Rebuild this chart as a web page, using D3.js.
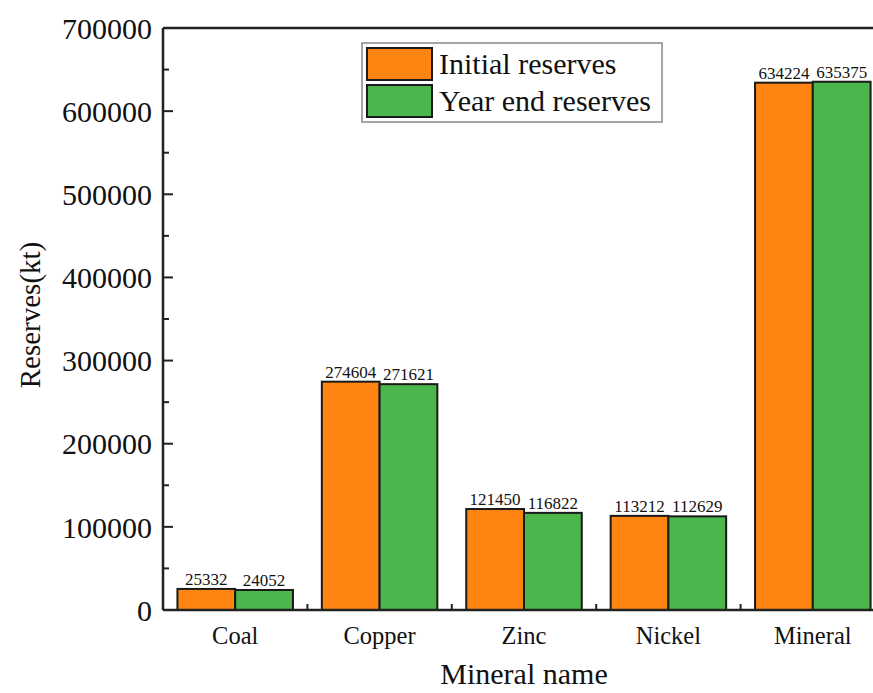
<!DOCTYPE html>
<html>
<head>
<meta charset="utf-8">
<script src="https://cdn.jsdelivr.net/npm/d3@7"></script>
<style>
  body { margin: 0; background: #fff; }
  svg text { font-family: "Liberation Serif", "Times New Roman", serif !important; fill: #111; }
</style>
</head>
<body>
<div id="chart"></div>
<script>
// Chart data
var minerals = ["Coal", "Copper", "Zinc", "Nickel", "Mineral"];
var seriesNames = ["Initial reserves", "Year end reserves"];
var initialReserves = [25332, 274604, 121450, 113212, 634224];
var yearEndReserves = [24052, 271621, 116822, 112629, 635375];
var yTicks = [0, 100000, 200000, 300000, 400000, 500000, 600000, 700000];

var colors = ["#FF8412", "#4BB64B"];

var svgWidth = 873;
var svgHeight = 693;

// plot area runs past the right edge of the picture
var margin = { top: 28, left: 163 };
var width = 722;
var height = 582;

var svg = d3.select("#chart")
  .append("svg")
  .attr("width", svgWidth)
  .attr("height", svgHeight);

var chartGroup = svg.append("g")
  .attr("transform", `translate(${margin.left}, ${margin.top})`);

var x0 = d3.scaleBand()
  .domain(minerals)
  .range([0, width])
  .paddingInner(0.2)
  .paddingOuter(0.1);

var x1 = d3.scaleBand()
  .domain(seriesNames)
  .range([0, x0.bandwidth()]);

var y = d3.scaleLinear()
  .domain([0, 700000])
  .range([height, 0]);

var rows = minerals.map((m, i) => ({
  name: m,
  values: [initialReserves[i], yearEndReserves[i]]
}));

// bars
var groups = chartGroup.selectAll(".group")
  .data(rows)
  .enter()
  .append("g")
  .attr("transform", d => `translate(${x0(d.name)}, 0)`);

groups.selectAll("rect")
  .data(d => d.values.map((v, j) => ({ key: seriesNames[j], value: v, j: j })))
  .enter()
  .append("rect")
  .attr("x", d => x1(d.key))
  .attr("y", d => y(d.value))
  .attr("width", x1.bandwidth())
  .attr("height", d => height - y(d.value))
  .attr("fill", d => colors[d.j])
  .attr("stroke", "#1a1a1a")
  .attr("stroke-width", 2);

// value labels
groups.selectAll(".val")
  .data(d => d.values.map((v, j) => ({ key: seriesNames[j], value: v })))
  .enter()
  .append("text")
  .attr("x", d => x1(d.key) + x1.bandwidth() / 2)
  .attr("y", d => y(d.value) - 4)
  .attr("text-anchor", "middle")
  .attr("font-size", "17px")
  .text(d => d.value);

// y axis
var leftAxis = d3.axisLeft(y).tickValues(yTicks).tickFormat(d3.format("d")).tickSize(0).tickPadding(11);
var yAxisG = chartGroup.append("g").call(leftAxis);
yAxisG.select(".domain").remove();
yAxisG.selectAll("text").attr("font-size", "30px").attr("dy", "0.34em");

// inside ticks (major + minor)
var yMinor = d3.range(50000, 700000, 100000);
chartGroup.selectAll(".ymaj")
  .data(yTicks)
  .enter()
  .append("line")
  .attr("x1", 0).attr("x2", 10)
  .attr("y1", d => y(d)).attr("y2", d => y(d))
  .attr("stroke", "#222").attr("stroke-width", 2);
chartGroup.selectAll(".ymin")
  .data(yMinor)
  .enter()
  .append("line")
  .attr("x1", 0).attr("x2", 6)
  .attr("y1", d => y(d)).attr("y2", d => y(d))
  .attr("stroke", "#222").attr("stroke-width", 2);

// x minor ticks between categories
chartGroup.selectAll(".xmin")
  .data(minerals.slice(1))
  .enter()
  .append("line")
  .attr("x1", d => x0(d) - x0.step() * x0.paddingInner() / 2)
  .attr("x2", d => x0(d) - x0.step() * x0.paddingInner() / 2)
  .attr("y1", height).attr("y2", height - 6)
  .attr("stroke", "#222").attr("stroke-width", 2);

// frame lines
chartGroup.append("line")
  .attr("x1", 0).attr("x2", 0).attr("y1", 0).attr("y2", height)
  .attr("stroke", "#222").attr("stroke-width", 2.5);
chartGroup.append("line")
  .attr("x1", 0).attr("x2", width).attr("y1", height).attr("y2", height)
  .attr("stroke", "#222").attr("stroke-width", 2.5);
chartGroup.append("line")
  .attr("x1", 0).attr("x2", width).attr("y1", 0).attr("y2", 0)
  .attr("stroke", "#222").attr("stroke-width", 2.5);

// x category labels
chartGroup.selectAll(".xlab")
  .data(minerals)
  .enter()
  .append("text")
  .attr("x", d => x0(d) + x0.bandwidth() / 2)
  .attr("y", height + 34)
  .attr("text-anchor", "middle")
  .attr("font-size", "24.5px")
  .text(d => d);

// axis titles
chartGroup.append("text")
  .attr("transform", "rotate(-90)")
  .attr("x", -(height / 2) + 4)
  .attr("y", -margin.left + 40)
  .attr("text-anchor", "middle")
  .attr("font-size", "29px")
  .text("Reserves(kt)");

svg.append("text")
  .attr("x", 524)
  .attr("y", 684)
  .attr("text-anchor", "middle")
  .attr("font-size", "30px")
  .text("Mineral name");

// legend
var legend = svg.append("g").attr("transform", "translate(362, 43)");
legend.append("rect")
  .attr("width", 300).attr("height", 79)
  .attr("fill", "#fff").attr("stroke", "#888").attr("stroke-width", 1.5);
seriesNames.forEach(function (name, i) {
  legend.append("rect")
    .attr("x", 5).attr("y", 5 + i * 37)
    .attr("width", 65).attr("height", 32)
    .attr("fill", colors[i])
    .attr("stroke", "#1a1a1a").attr("stroke-width", 2);
  legend.append("text")
    .attr("x", 77).attr("y", 31 + i * 37)
    .attr("font-size", "30px")
    .text(name);
});
</script>
</body>
</html>
